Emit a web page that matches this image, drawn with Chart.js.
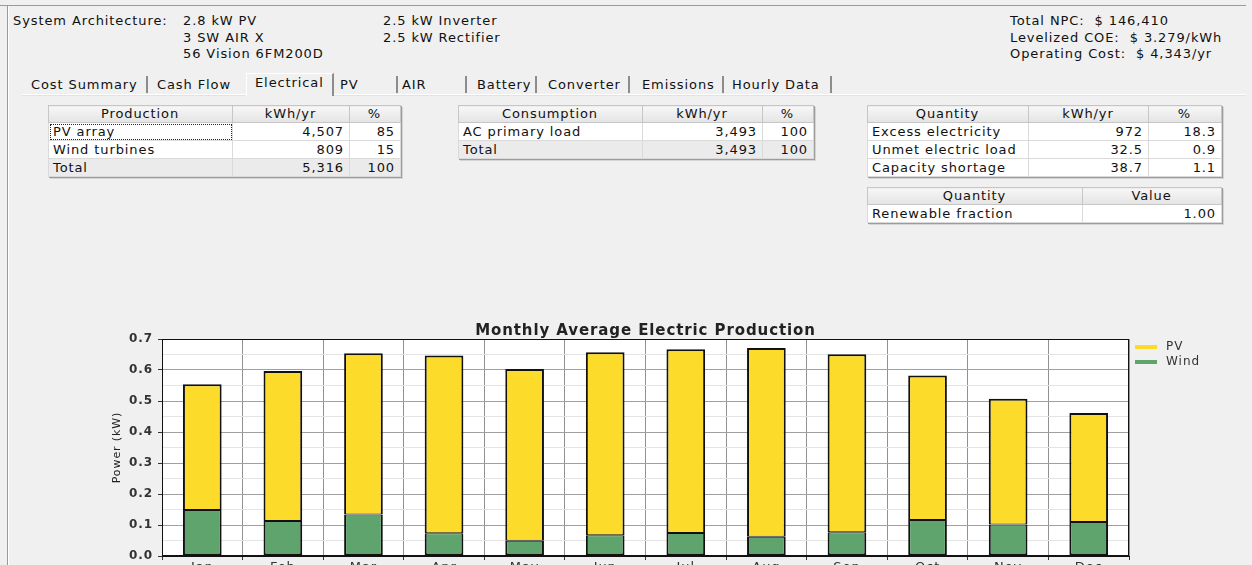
<!DOCTYPE html>
<html>
<head>
<meta charset="utf-8">
<script src="https://cdn.jsdelivr.net/npm/chart.js@4.4.1/dist/chart.umd.min.js"></script>
<style>
html,body{margin:0;padding:0;width:1252px;height:565px;overflow:hidden;background:#f0f0f0;
  font-family:"DejaVu Sans",sans-serif;font-size:13px;color:#111;letter-spacing:0.9px}
.abs{position:absolute}
.lines{line-height:16.5px;white-space:pre}
.frameTop{position:absolute;left:0;top:5px;width:1246px;height:1px;background:#9a9a9a}
.frameLeft{position:absolute;left:7px;top:5px;width:1px;height:600px;background:#9a9a9a}
.frameLeft2{position:absolute;left:8px;top:6px;width:1px;height:600px;background:#ffffff}
.panelTop{position:absolute;left:22px;top:94px;width:1224px;height:1px;background:#ffffff}
.panelTop2{position:absolute;left:22px;top:95px;width:1224px;height:1px;background:#e2e2e2}
.tab{position:absolute;top:77px;line-height:16px;white-space:pre}
.sep{position:absolute;top:76px;width:2px;height:17px;background:#8c8c8c}
.seltab{position:absolute;left:246px;top:73px;width:85px;height:22px;border-left:1px solid #fff;border-top:1px solid #fff;border-right:2px solid #8c8c8c;background:#f0f0f0}
table.g{position:absolute;border-collapse:collapse;table-layout:fixed;box-shadow:1px 1px 0 #9c9c9c,2px 2px 0 #d4d4d4}
table.g th,table.g td{padding:0 5px 0 4px;border:1px solid #dadada;white-space:nowrap;overflow:hidden;font-weight:normal;line-height:16px}
table.g tr{height:18px}
table.g tr.h{height:17px}
table.g th{background:linear-gradient(#f7f7f7,#e4e4e4);text-align:center;border-color:#c6c6c6}
table.g td{background:#fff;text-align:left}
table.g td.n{text-align:right}
table.g tr.t td{background:#ebebeb}
td.focus{outline:1px dotted #222;outline-offset:-2px}
#chartCanvas{position:absolute;left:0;top:300px}
</style>
</head>
<body>
<div class="frameTop"></div>
<div class="frameLeft"></div>
<div class="frameLeft2"></div>

<div class="abs lines" style="left:13px;top:13px">System Architecture:</div>
<div class="abs lines" style="left:183px;top:13px">2.8 kW PV
3 SW AIR X
56 Vision 6FM200D</div>
<div class="abs lines" style="left:383px;top:13px">2.5 kW Inverter
2.5 kW Rectifier</div>
<div class="abs lines" style="left:1010px;top:13px">Total NPC:  $ 146,410
Levelized COE:  $ 3.279/kWh
Operating Cost:  $ 4,343/yr</div>

<div class="panelTop"></div>
<div class="panelTop2"></div>
<div class="seltab"></div>
<div class="tab" style="left:31px">Cost Summary</div>
<div class="sep" style="left:146px"></div>
<div class="tab" style="left:157px">Cash Flow</div>
<div class="tab" style="left:255px;top:75px">Electrical</div>
<div class="tab" style="left:340px">PV</div>
<div class="sep" style="left:396px"></div>
<div class="tab" style="left:402px">AIR</div>
<div class="sep" style="left:465px"></div>
<div class="tab" style="left:477px">Battery</div>
<div class="sep" style="left:535px"></div>
<div class="tab" style="left:548px">Converter</div>
<div class="sep" style="left:628px"></div>
<div class="tab" style="left:642px">Emissions</div>
<div class="sep" style="left:722px"></div>
<div class="tab" style="left:732px">Hourly Data</div>
<div class="sep" style="left:830px"></div>

<table class="g" style="left:48px;top:105px;width:352px">
<colgroup><col style="width:184px"><col style="width:117px"><col style="width:51px"></colgroup>
<tr class="h"><th>Production</th><th>kWh/yr</th><th>%</th></tr>
<tr><td class="focus">PV array</td><td class="n">4,507</td><td class="n">85</td></tr>
<tr><td>Wind turbines</td><td class="n">809</td><td class="n">15</td></tr>
<tr class="t"><td>Total</td><td class="n">5,316</td><td class="n">100</td></tr>
</table>

<table class="g" style="left:458px;top:105px;width:355px">
<colgroup><col style="width:184px"><col style="width:120px"><col style="width:51px"></colgroup>
<tr class="h"><th>Consumption</th><th>kWh/yr</th><th>%</th></tr>
<tr><td>AC primary load</td><td class="n">3,493</td><td class="n">100</td></tr>
<tr class="t"><td>Total</td><td class="n">3,493</td><td class="n">100</td></tr>
</table>

<table class="g" style="left:867px;top:105px;width:354px">
<colgroup><col style="width:161px"><col style="width:120px"><col style="width:73px"></colgroup>
<tr class="h"><th>Quantity</th><th>kWh/yr</th><th>%</th></tr>
<tr><td>Excess electricity</td><td class="n">972</td><td class="n">18.3</td></tr>
<tr><td>Unmet electric load</td><td class="n">32.5</td><td class="n">0.9</td></tr>
<tr><td>Capacity shortage</td><td class="n">38.7</td><td class="n">1.1</td></tr>
</table>

<table class="g" style="left:867px;top:187px;width:354px">
<colgroup><col style="width:215px"><col style="width:139px"></colgroup>
<tr class="h"><th>Quantity</th><th>Value</th></tr>
<tr><td>Renewable fraction</td><td class="n">1.00</td></tr>
</table>

<canvas id="chartCanvas" width="1252" height="286"></canvas>

<script>
// ---- chart data ----
const months = ['Jan','Feb','Mar','Apr','May','Jun','Jul','Aug','Sep','Oct','Nov','Dec'];
const windKW = [0.148, 0.113, 0.134, 0.073, 0.049, 0.067, 0.074, 0.062, 0.077, 0.116, 0.102, 0.110];
const pvKW   = [0.406, 0.484, 0.520, 0.574, 0.554, 0.590, 0.593, 0.609, 0.574, 0.466, 0.405, 0.351];
const seriesNames = ['Wind', 'PV'];
const seriesColors = ['#5fa36d', '#fcdb2a'];
const yMin = 0, yMax = 0.7, yMajorStep = 0.1, yMinorStep = 0.05;
const chartTitle = 'Monthly Average Electric Production';
const yAxisTitle = 'Power (kW)';

const isMajor = v => Math.abs(v / yMajorStep - Math.round(v / yMajorStep)) < 1e-6;

const plotFrame = {
  id: 'plotFrame',
  beforeDraw(chart) {
    const {ctx, chartArea: a} = chart;
    ctx.save(); ctx.fillStyle = '#ffffff';
    ctx.fillRect(a.left, a.top, a.right - a.left, a.bottom - a.top); ctx.restore();
  },
  afterDraw(chart) {
    const {ctx, chartArea: a} = chart;
    ctx.save(); ctx.strokeStyle = '#111'; ctx.lineWidth = 1;
    ctx.strokeRect(Math.round(a.left) + 0.5, Math.round(a.top) + 0.5,
                   Math.round(a.right - a.left) - 1, Math.round(a.bottom - a.top) - 1);
    ctx.restore();
  }
};

const sideLegend = {
  id: 'sideLegend',
  afterDraw(chart) {
    const {ctx, chartArea: a} = chart;
    const ds = chart.data.datasets.slice().reverse();
    ctx.save();
    ctx.font = '12px "DejaVu Sans"';
    try { ctx.letterSpacing = '1px'; } catch (e) {}
    ctx.textBaseline = 'middle';
    ds.forEach((d, i) => {
      const y = a.top + 8 + i * 15;
      ctx.strokeStyle = d.backgroundColor; ctx.lineWidth = 4;
      ctx.beginPath(); ctx.moveTo(a.right + 6, y); ctx.lineTo(a.right + 28, y); ctx.stroke();
      ctx.fillStyle = '#333'; ctx.fillText(d.label, a.right + 37, y);
    });
    ctx.restore();
  }
};

const seriesData = [windKW, pvKW];
const datasets = seriesNames.map((name, i) => ({
  label: name,
  data: seriesData[i],
  backgroundColor: seriesColors[i],
  borderColor: '#111',
  borderWidth: i === 0 ? {top: 1, left: 2, right: 2, bottom: 2} : {top: 2, left: 2, right: 2, bottom: 1},
  borderSkipped: false,
  barPercentage: 0.48,
  categoryPercentage: 1,
  stack: 'power'
}));

new Chart(document.getElementById('chartCanvas'), {
  type: 'bar',
  data: { labels: months, datasets },
  options: {
    responsive: false,
    animation: false,
    devicePixelRatio: 1,
    layout: { padding: { top: 24, left: 107, right: 123, bottom: 0 } },
    plugins: {
      legend: { display: false },
      tooltip: { enabled: false },
      title: {
        display: true, text: chartTitle, fullSize: false, padding: 0, color: '#222',
        font: { family: 'DejaVu Sans', size: 15, weight: 'bold', lineHeight: 1 }
      }
    },
    scales: {
      x: {
        stacked: true, offset: true,
        grid: { offset: true, color: '#929292', tickColor: '#333', tickLength: 4 },
        border: { color: '#111' },
        ticks: { font: { family: 'DejaVu Sans', size: 13 }, color: '#333', padding: 0 },
        afterFit(s) { s.height = 30; }
      },
      y: {
        stacked: true, min: yMin, max: yMax,
        ticks: {
          stepSize: yMinorStep, autoSkip: false, padding: 5, color: '#333',
          font: { family: 'DejaVu Sans', size: 12, weight: 'bold' },
          callback: v => isMajor(v) ? v.toFixed(1) : ''
        },
        grid: {
          color: c => isMajor(c.tick.value) ? '#a0a0a0' : '#e4e4e4',
          tickColor: c => isMajor(c.tick.value) ? '#333' : 'rgba(0,0,0,0)',
          tickLength: 4
        },
        border: { color: '#111' },
        title: { display: true, text: yAxisTitle, color: '#222', padding: { top: 4, bottom: 4 },
                 font: { family: 'DejaVu Sans', size: 11 } },
        afterFit(s) { s.width = 55; }
      }
    }
  },
  plugins: [plotFrame, sideLegend]
});
</script>
</body>
</html>
